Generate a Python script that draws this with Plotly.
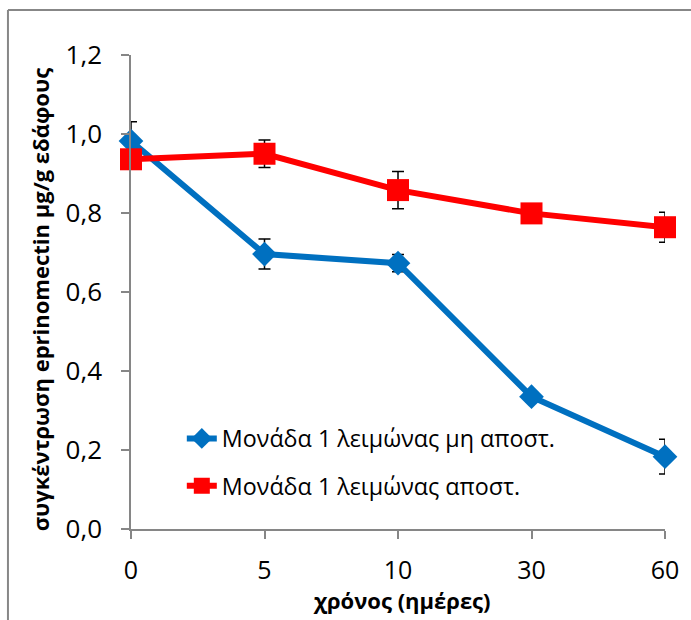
import plotly.graph_objects as go

days = ["0", "5", "10", "30", "60"]
blue_name = "Μονάδα 1 λειμώνας μη αποστ."
red_name = "Μονάδα 1 λειμώνας αποστ."
blue_vals = [0.982, 0.696, 0.673, 0.335, 0.183]
blue_err = [0.049, 0.038, 0.022, 0.012, 0.044]
red_vals = [0.936, 0.950, 0.858, 0.799, 0.764]
red_err = [0.012, 0.035, 0.047, 0.012, 0.038]
y_title = "συγκέντρωση eprinomectin μg/g εδάφους"
x_title = "χρόνος (ημέρες)"

FONT = "Open Sans"
W, H = 691, 620
L, R, T, B = 131, 24, 54.5, 90.5
pw, ph = W - L - R, H - T - B

def px_x(p):
    return (p - L) / pw

def px_y(p):
    return (H - B - p) / ph

xidx = list(range(len(days)))

fig = go.Figure()
fig.add_trace(go.Scatter(
    x=xidx, y=blue_vals, name=blue_name, mode="lines+markers",
    line=dict(color="#0070C0", width=6),
    marker=dict(symbol="diamond", size=19, color="#0070C0"),
    error_y=dict(type="data", array=blue_err, color="black", thickness=1.5, width=6),
    cliponaxis=False, legendgroup="a",
))
fig.add_trace(go.Scatter(
    x=xidx, y=red_vals, name=red_name, mode="lines+markers",
    line=dict(color="#FF0000", width=6),
    marker=dict(symbol="square", size=22, color="#FF0000"),
    error_y=dict(type="data", array=red_err, color="black", thickness=1.5, width=6),
    cliponaxis=False, legendgroup="b",
))

axis_col = "#868686"
fig.update_layout(
    width=W, height=H,
    margin=dict(l=L, r=R, t=T, b=B),
    paper_bgcolor="white", plot_bgcolor="white",
    separators=",.",
    font=dict(family=FONT, color="black", size=24),
    showlegend=True,
    legend=dict(
        x=px_x(182), y=px_y(417), xanchor="left", yanchor="top",
        bgcolor="rgba(0,0,0,0)", font=dict(family=FONT, size=23.3, color="black"),
        traceorder="grouped", tracegroupgap=14,
    ),
    xaxis=dict(
        range=[0, len(days) - 1], tickmode="array", tickvals=xidx, ticktext=days,
        showgrid=False, zeroline=False, showline=True, linecolor=axis_col, linewidth=1.5,
        ticks="outside", ticklen=8, tickcolor=axis_col, tickwidth=1.5,
        ticklabelstandoff=10,
        tickfont=dict(family=FONT, size=25, color="black"),
    ),
    yaxis=dict(
        range=[0, 1.2], dtick=0.2, tick0=0, tickformat=".1f",
        showgrid=False, zeroline=False, showline=True, linecolor=axis_col, linewidth=1.5,
        ticks="outside", ticklen=8, tickcolor=axis_col, tickwidth=1.5,
        ticklabelstandoff=14,
        tickfont=dict(family=FONT, size=26, color="black"),
    ),
    annotations=[
        dict(text="<b>" + x_title + "</b>", xref="paper", yref="paper",
             x=px_x(403), y=px_y(601), xanchor="center", yanchor="middle",
             showarrow=False, font=dict(family=FONT, size=22, color="black")),
        dict(text="<b>" + y_title + "</b>", xref="paper", yref="paper",
             x=px_x(40), y=px_y(300), xanchor="center", yanchor="middle",
             textangle=-90, showarrow=False, font=dict(family=FONT, size=22, color="black")),
    ],
    shapes=[
        dict(type="line", xref="paper", yref="paper",
             x0=px_x(7.5), x1=px_x(7.5), y0=px_y(9.5), y1=px_y(700),
             line=dict(color="#878787", width=2)),
        dict(type="line", xref="paper", yref="paper",
             x0=px_x(7.5), x1=px_x(760), y0=px_y(9.5), y1=px_y(9.5),
             line=dict(color="#878787", width=2)),
    ],
)

fig.write_html("out.html")
